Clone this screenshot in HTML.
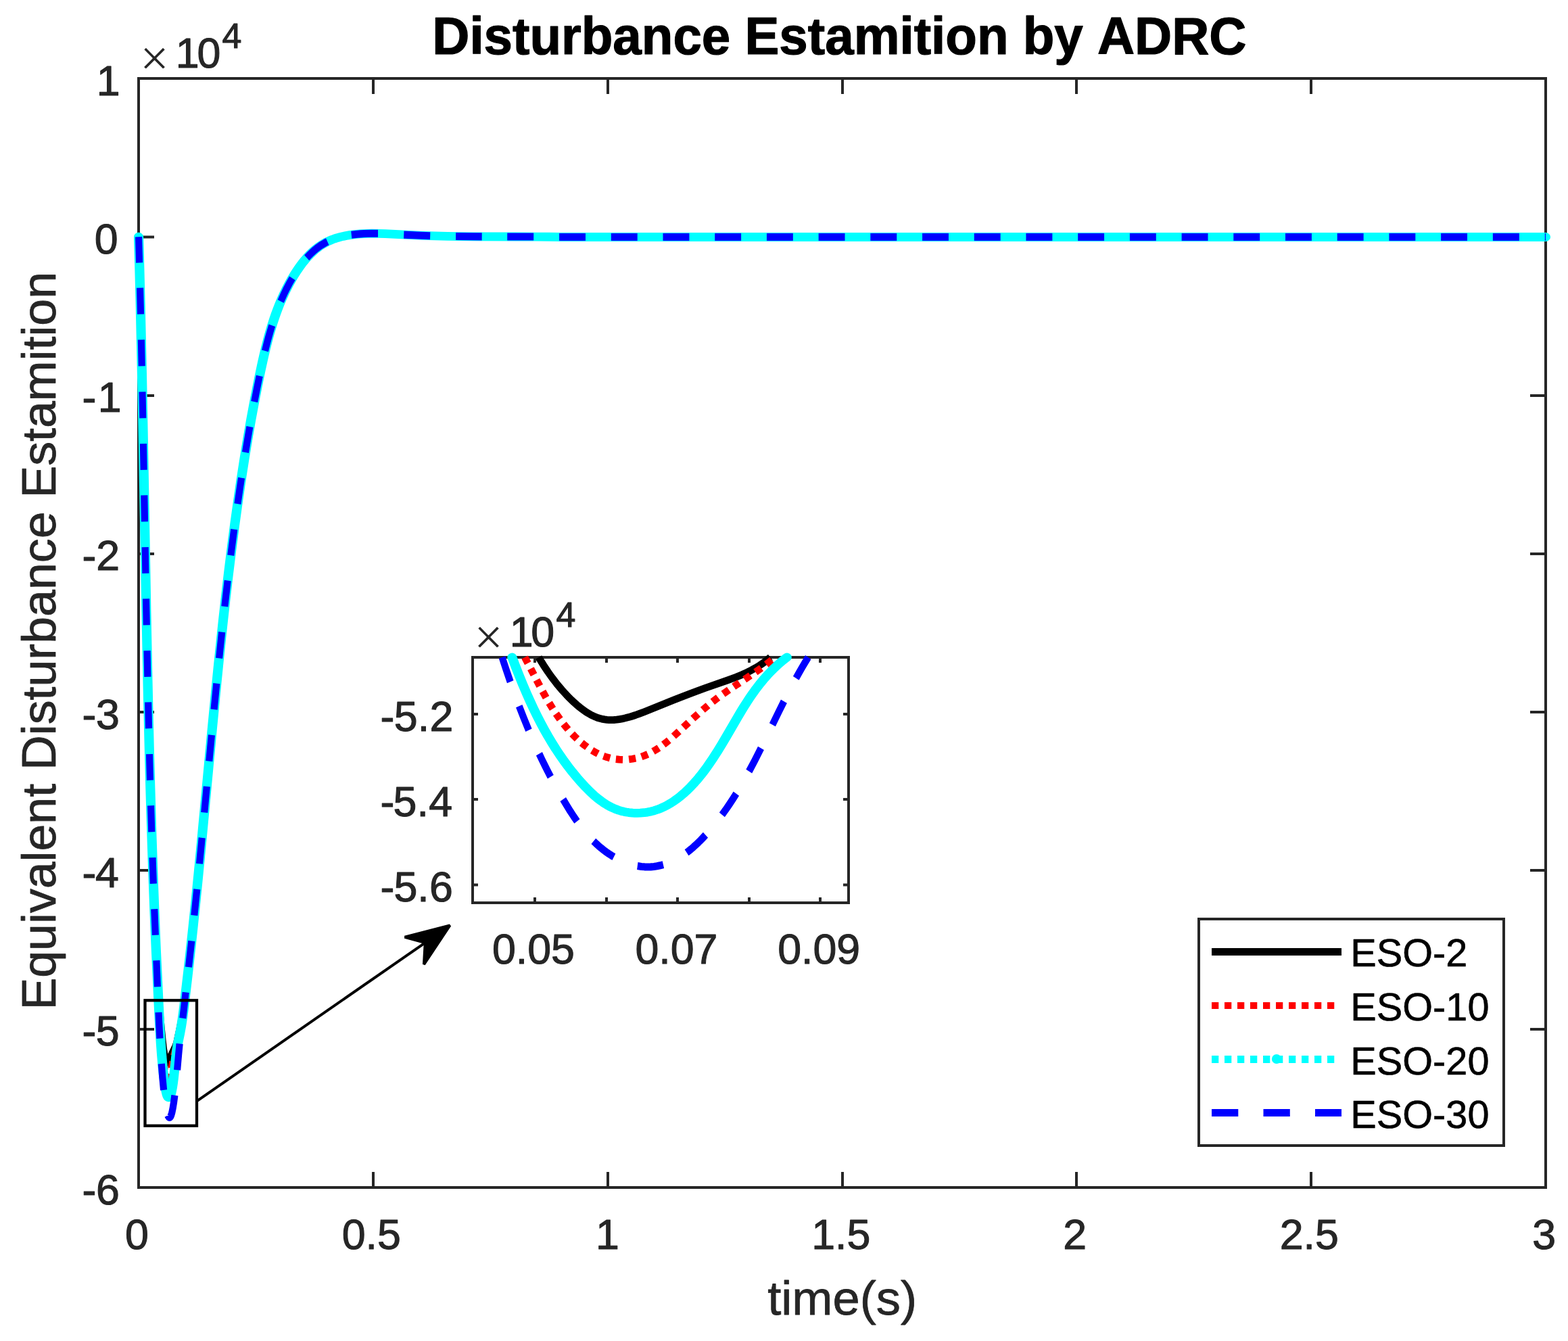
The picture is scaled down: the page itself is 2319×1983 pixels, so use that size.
<!DOCTYPE html>
<html lang="en"><head><meta charset="utf-8"><title>Disturbance Estamition by ADRC</title>
<style>html,body{margin:0;padding:0;background:#fff;overflow:hidden}svg{display:block}text{font-family:"Liberation Sans",sans-serif;font-kerning:none;white-space:pre}</style></head><body>
<svg width="2319" height="1983" viewBox="0 0 2319 1983" role="img" aria-label="Disturbance Estamition by ADRC">
<rect width="2319" height="1983" fill="#fff"/>
<g id="main-axes">
<path d="M552.00,1756.00 v-23.00 M552.00,116.00 v23.00 M899.00,1756.00 v-23.00 M899.00,116.00 v23.00 M1246.00,1756.00 v-23.00 M1246.00,116.00 v23.00 M1592.00,1756.00 v-23.00 M1592.00,116.00 v23.00 M1939.00,1756.00 v-23.00 M1939.00,116.00 v23.00 M205.00,350.40 h23.00 M2286.00,350.40 h-23.00 M205.00,585.00 h23.00 M2286.00,585.00 h-23.00 M205.00,819.00 h23.00 M2286.00,819.00 h-23.00 M205.00,1053.00 h23.00 M2286.00,1053.00 h-23.00 M205.00,1287.00 h23.00 M2286.00,1287.00 h-23.00 M205.00,1522.00 h23.00 M2286.00,1522.00 h-23.00" stroke="#262626" stroke-width="4.00" fill="none"/>
<rect x="205.00" y="116.00" width="2081.00" height="1640.00" fill="none" stroke="#262626" stroke-width="4.00"/>
</g>
<g id="main-labels">
<text transform="translate(184.96,1846.90)" font-size="62.70" fill="#262626" stroke="#262626" stroke-width="1.10" stroke-linejoin="round">0</text>
<text transform="translate(505.74,1846.90)" font-size="62.70" fill="#262626" stroke="#262626" stroke-width="1.10" stroke-linejoin="round">0.5</text>
<text transform="translate(880.97,1846.90)" font-size="62.70" fill="#262626" stroke="#262626" stroke-width="1.10" stroke-linejoin="round">1</text>
<text transform="translate(1200.25,1846.90)" font-size="62.70" fill="#262626" stroke="#262626" stroke-width="1.10" stroke-linejoin="round">1.5</text>
<text transform="translate(1572.30,1846.90)" font-size="62.70" fill="#262626" stroke="#262626" stroke-width="1.10" stroke-linejoin="round">2</text>
<text transform="translate(1892.73,1846.90)" font-size="62.70" fill="#262626" stroke="#262626" stroke-width="1.10" stroke-linejoin="round">2.5</text>
<text transform="translate(2266.15,1846.90)" font-size="62.70" fill="#262626" stroke="#262626" stroke-width="1.10" stroke-linejoin="round">3</text>
<text transform="translate(0,140.50) scale(1,1)" x="142.63" font-size="62.70" fill="#262626" stroke="#262626" stroke-width="1.10" stroke-linejoin="round">1</text>
<text transform="translate(139.78,374.79)" font-size="62.70" fill="#262626" stroke="#262626" stroke-width="1.10" stroke-linejoin="round">0</text>
<text transform="translate(0,609.07) scale(1,1)" x="121.49 144.71" font-size="62.70" fill="#262626" stroke="#262626" stroke-width="1.10" stroke-linejoin="round">-1</text>
<text transform="translate(0,843.36) scale(1,1)" x="121.49 142.33" font-size="62.70" fill="#262626" stroke="#262626" stroke-width="1.10" stroke-linejoin="round">-2</text>
<text transform="translate(0,1077.64) scale(1,1)" x="121.49 141.93" font-size="62.70" fill="#262626" stroke="#262626" stroke-width="1.10" stroke-linejoin="round">-3</text>
<text transform="translate(0,1311.93) scale(1,1)" x="121.49 141.02" font-size="62.70" fill="#262626" stroke="#262626" stroke-width="1.10" stroke-linejoin="round">-4</text>
<text transform="translate(0,1546.21) scale(1,1)" x="121.49 141.81" font-size="62.70" fill="#262626" stroke="#262626" stroke-width="1.10" stroke-linejoin="round">-5</text>
<text transform="translate(0,1780.50) scale(1,1)" x="121.49 141.93" font-size="62.70" fill="#262626" stroke="#262626" stroke-width="1.10" stroke-linejoin="round">-6</text>
<text transform="translate(207.02,110.85)" font-size="73.50" fill="#262626" stroke="#fff" stroke-width="1.60" stroke-linejoin="round">×</text>
<text transform="translate(0,100.10) scale(1,1)" x="259.66 291.56" font-size="62.70" fill="#262626" stroke="#262626" stroke-width="1.10" stroke-linejoin="round">10</text>
<text transform="translate(328.61,71.40)" font-size="52.00" fill="#262626" stroke="#262626" stroke-width="1.10" stroke-linejoin="round">4</text>
<text transform="translate(639.29,79.90) scale(1,1.01)" font-size="76.32" fill="#000" font-weight="bold" stroke="#000" stroke-width="1.20" stroke-linejoin="round">Disturbance Estamition by ADRC</text>
<text transform="translate(1135.21,1944.30) scale(1,0.975)" font-size="72.30" fill="#262626" stroke="#262626" stroke-width="0.80" stroke-linejoin="round">time(s)</text>
<text transform="translate(81.70,1493.58) rotate(-90) scale(1,0.985)" font-size="71.69" fill="#262626" stroke="#262626" stroke-width="0.80" stroke-linejoin="round">Equivalent Disturbance Estamition</text>
</g>
<g id="main-curves" fill="none" stroke-linejoin="round">
<path d="M205.1,350.3 L206.4,397.6 L207.6,446.3 L210.0,553.0 L211.9,655.4 L216.4,905.5 L217.8,974.0 L219.1,1035.5 L220.6,1101.2 L222.3,1163.3 L224.0,1222.6 L225.9,1279.1 L228.4,1346.9 L231.3,1416.1 L232.2,1435.1 L233.1,1452.1 L234.1,1467.6 L235.1,1482.4 L236.5,1500.7 L238.3,1519.7 L240.3,1539.4 L241.7,1551.3 L242.5,1556.2 L243.3,1561.1 L244.1,1565.2 L244.8,1568.0 L245.5,1570.0 L246.2,1571.2 L246.8,1571.7 L247.5,1571.7 L248.0,1571.3 L248.5,1570.7 L249.2,1569.5 L249.9,1568.3 L254.8,1557.3 L259.4,1547.8 L260.5,1545.1 L261.6,1541.8 L262.2,1539.0 L265.6,1523.1 L267.3,1514.8 L268.8,1507.2 L270.0,1500.2 L271.1,1493.3 L273.3,1477.9 L276.6,1451.2 L281.0,1412.6 L285.1,1374.7 L289.3,1334.6 L293.2,1295.3 L297.5,1251.7 L313.2,1084.2 L320.1,1013.2 L324.0,974.5 L327.7,938.7 L331.5,904.3 L335.1,872.0 L339.9,832.0 L344.7,794.2 L349.6,757.8 L354.7,722.1 L359.9,688.6 L365.0,656.5 L370.5,625.1 L376.0,595.3 L381.4,567.5 L386.9,541.2 L389.2,530.9 L391.4,521.3 L393.6,512.3 L395.9,503.4 L398.3,494.6 L400.7,486.4 L403.2,478.3 L405.6,471.0 L408.2,463.6 L410.9,456.3 L413.8,449.1 L416.5,442.6 L419.7,435.5 L423.0,428.5 L426.6,421.6 L430.3,414.8 L434.2,408.1 L438.0,402.1 L441.9,396.2 L445.7,391.1 L449.6,386.1 L453.2,381.8 L457.1,377.6 L461.1,373.6 L465.3,369.9 L469.1,366.7 L473.7,363.4 L477.9,360.8 L481.6,358.7 L484.7,357.1 L487.9,355.6 L491.9,354.0 L495.9,352.6 L499.9,351.4 L504.0,350.3 L508.1,349.3 L513.0,348.3 L517.9,347.5 L522.8,346.8 L527.7,346.3 L532.6,345.9 L538.3,345.5 L543.9,345.3 L550.3,345.2 L559.5,345.3 L570.0,345.7 L603.9,347.4 L624.4,348.3 L642.0,348.9 L661.1,349.3 L679.5,349.6 L699.3,349.8 L789.7,350.1 L812.3,350.3 L828.8,350.5 L2286.0,350.5" stroke="#000" stroke-width="10.8"/>
<path d="M205.1,350.3 L206.4,396.9 L207.6,445.6 L209.9,552.4 L211.9,655.0 L216.4,906.7 L217.8,975.5 L219.1,1037.9 L220.7,1104.6 L222.4,1166.9 L224.1,1226.4 L226.0,1283.8 L228.7,1354.0 L230.1,1387.7 L231.4,1417.8 L232.8,1446.4 L234.2,1473.6 L235.5,1495.8 L236.7,1513.7 L238.0,1530.2 L240.5,1556.6 L241.6,1567.3 L242.7,1575.8 L243.4,1580.1 L244.2,1584.3 L244.9,1587.1 L245.7,1589.8 L246.5,1591.8 L247.3,1593.0 L247.9,1593.4 L248.6,1593.5 L249.2,1593.1 L249.7,1592.5 L250.4,1591.3 L251.1,1589.3 L251.9,1586.5 L253.0,1581.6 L255.6,1568.2 L256.9,1561.9 L258.3,1556.4 L261.9,1542.5 L264.1,1532.7 L266.9,1517.9 L269.6,1502.3 L272.2,1485.3 L274.5,1468.3 L278.0,1439.1 L282.0,1403.4 L285.8,1367.8 L289.8,1329.3 L293.6,1291.4 L297.7,1249.3 L313.0,1086.5 L319.7,1017.3 L323.5,979.5 L327.1,944.5 L330.7,911.0 L334.3,878.9 L339.0,839.8 L343.6,802.8 L348.4,766.5 L353.3,731.7 L358.3,698.4 L363.4,666.5 L368.5,636.1 L373.9,606.5 L379.5,576.9 L385.3,548.8 L387.7,537.6 L390.1,527.1 L392.4,517.3 L394.6,508.2 L397.0,499.2 L399.3,490.9 L401.8,482.7 L404.4,474.5 L407.0,467.0 L409.7,459.6 L412.5,452.3 L415.2,445.6 L418.4,438.4 L421.7,431.2 L425.2,424.2 L429.0,417.2 L432.9,410.4 L436.6,404.3 L440.5,398.3 L444.7,392.4 L448.6,387.3 L452.7,382.3 L456.6,378.1 L460.7,374.0 L464.9,370.2 L468.8,367.0 L473.4,363.6 L477.7,360.9 L481.4,358.8 L484.6,357.1 L487.8,355.7 L491.8,354.0 L495.9,352.6 L500.0,351.3 L504.2,350.2 L508.4,349.2 L512.6,348.4 L517.5,347.6 L522.5,346.9 L527.5,346.3 L532.5,345.9 L538.2,345.5 L543.9,345.3 L549.7,345.2 L559.0,345.3 L569.8,345.6 L604.8,347.5 L624.9,348.3 L642.8,348.9 L661.5,349.3 L679.4,349.6 L699.5,349.8 L789.8,350.1 L812.1,350.3 L828.8,350.5 L2286.0,350.5" stroke="#f00" stroke-width="10.3" stroke-dasharray="10.3 8.8"/>
<g transform="scale(1,0.90780)"><path d="M205.08,385.84 L206.36,437.41 L207.59,491.40 L209.95,609.05 L211.93,721.87 L216.42,997.49 L217.78,1073.24 L219.11,1141.74 L220.69,1215.07 L222.33,1283.56 L224.08,1348.82 L225.97,1411.65 L228.38,1483.34 L230.88,1548.57 L235.63,1658.07 L236.74,1680.60 L237.86,1699.91 L239.16,1719.20 L240.50,1736.06 L241.97,1751.29 L243.49,1764.07 L245.13,1775.21 L245.86,1779.16 L246.58,1782.29 L247.27,1784.58 L247.87,1786.05 L248.26,1786.73 L248.77,1787.33 L249.42,1787.68 L250.15,1787.55 L250.74,1787.07 L251.54,1785.72 L252.14,1784.24 L252.83,1781.95 L253.58,1778.83 L254.85,1771.72 L255.86,1764.55 L256.89,1755.76 L260.15,1722.09 L261.71,1708.50 L263.15,1698.96 L266.15,1683.18 L268.25,1670.49 L270.26,1656.15 L272.15,1640.17 L278.17,1583.32 L281.54,1550.48 L285.49,1510.42 L289.57,1467.12 L293.50,1423.81 L297.67,1376.48 L312.85,1198.32 L319.38,1123.71 L323.03,1083.61 L326.57,1045.93 L330.01,1010.67 L333.51,976.22 L337.94,934.59 L342.43,894.60 L346.98,856.23 L351.69,818.71 L356.45,782.82 L361.28,748.57 L366.15,715.96 L371.18,684.20 L376.80,650.92 L382.64,618.50 L385.47,603.51 L388.10,590.11 L390.53,578.32 L392.92,567.35 L395.26,557.19 L397.53,547.85 L399.94,538.55 L402.50,529.30 L405.21,520.10 L407.85,511.72 L410.64,503.41 L413.32,495.91 L416.73,486.99 L420.05,478.91 L423.55,470.93 L427.25,463.06 L431.15,455.30 L434.88,448.37 L438.80,441.56 L442.92,434.91 L446.84,429.08 L450.97,423.42 L454.83,418.58 L458.89,413.93 L463.14,409.50 L467.60,405.32 L472.28,401.44 L476.54,398.32 L480.32,395.86 L483.56,393.98 L486.86,392.25 L490.91,390.39 L495.04,388.73 L499.22,387.27 L503.46,385.99 L507.73,384.87 L512.03,383.90 L517.08,382.95 L522.15,382.16 L527.24,381.53 L532.34,381.04 L538.18,380.64 L544.03,380.40 L549.89,380.30 L559.40,380.39 L569.64,380.75 L604.71,382.76 L624.45,383.68 L642.73,384.32 L661.75,384.80 L680.04,385.11 L699.80,385.31 L789.80,385.63 L811.75,385.82 L828.85,386.10 L2286.00,386.10" stroke="#0ff" stroke-width="14.1" stroke-linecap="round" stroke-linejoin="round"/></g>
<g transform="scale(0.91892,1)"><path d="M223.18,350.27 L224.32,388.48 M225.36,425.63 L226.38,464.59 M227.31,502.49 L228.22,541.45 M229.05,579.35 L229.87,618.32 M230.64,656.21 L231.40,694.80 M232.13,732.33 L232.88,771.30 M233.61,809.20 L234.36,847.79 M235.11,885.32 L235.91,924.29 M236.72,962.18 L237.59,1000.77 M238.49,1038.29 L239.47,1077.26 M240.49,1115.15 L241.60,1153.73 M242.76,1191.25 L244.05,1230.21 M245.40,1268.09 L246.88,1306.67 M248.43,1344.17 L250.14,1382.74 M251.78,1420.24 L253.46,1459.19 M255.19,1497.06 L256.25,1517.93 L257.26,1535.61 M259.84,1573.06 L261.55,1593.16 L263.44,1611.93 M270.05,1649.20 L270.73,1650.58 L271.62,1651.83 L272.27,1652.31 L273.05,1652.42 L273.75,1652.00 L274.26,1651.41 L275.02,1650.10 L275.61,1648.71 L276.33,1646.57 L276.94,1644.40 L278.23,1638.55 L279.77,1629.71 L281.20,1619.75 M285.25,1582.21 L287.50,1558.41 L289.07,1543.38 M294.15,1505.78 L295.78,1493.18 L298.89,1467.43 M303.62,1430.15 L308.31,1391.41 M312.67,1353.72 L316.98,1314.95 M321.03,1277.23 L325.05,1238.81 M328.89,1201.44 L332.80,1163.01 M336.59,1125.64 L340.56,1086.83 M344.49,1049.10 L348.58,1010.69 M352.68,973.34 L357.11,934.58 M361.62,896.91 L366.44,858.56 M371.38,821.31 L376.81,782.65 M382.43,745.10 L385.44,725.89 L388.58,706.53 M394.99,669.10 L398.45,649.95 L402.01,631.03 M409.38,594.12 L413.41,575.08 L417.66,555.88 M426.56,518.89 L429.31,508.75 L432.00,499.37 L434.87,490.03 L437.77,481.22 M451.82,445.69 L456.07,436.81 L460.63,428.06 L465.49,419.44 L470.47,411.31 M493.72,381.25 L497.59,377.42 L501.63,373.75 L505.86,370.25 L509.62,367.40 L514.18,364.28 L518.23,361.80 L522.42,359.51 L526.98,357.31 M565.63,347.24 L570.47,346.68 L575.31,346.21 L580.17,345.85 L585.85,345.54 L596.40,345.26 L608.37,345.31 M649.96,347.09 L671.06,348.01 L692.34,348.70 M733.57,349.52 L775.58,349.86 M816.42,349.96 L858.84,350.07 M900.08,350.45 L942.40,350.50 M983.56,350.50 L1025.88,350.50 M1067.03,350.50 L1109.36,350.50 M1150.51,350.50 L1192.83,350.50 M1233.99,350.50 L1276.31,350.50 M1317.46,350.50 L1359.79,350.50 M1400.94,350.50 L1443.26,350.50 M1484.42,350.50 L1526.74,350.50 M1567.89,350.50 L1610.21,350.50 M1651.37,350.50 L1693.69,350.50 M1734.85,350.50 L1777.17,350.50 M1818.32,350.50 L1860.64,350.50 M1901.80,350.50 L1944.12,350.50 M1985.27,350.50 L2027.60,350.50 M2068.75,350.50 L2111.07,350.50 M2152.23,350.50 L2194.55,350.50 M2235.70,350.50 L2278.03,350.50 M2319.18,350.50 L2361.50,350.50 M2402.66,350.50 L2445.14,350.50 M2486.45,350.50 L2487.71,350.50" stroke="#00f" stroke-width="11.1"/></g>
</g>
<g id="inset">
<rect x="699.00" y="972.00" width="556.00" height="363.00" fill="#fff"/>
<path d="M791.00,1335.00 v-8.00 M791.00,972.00 v8.00 M897.00,1335.00 v-8.00 M897.00,972.00 v8.00 M1002.00,1335.00 v-8.00 M1002.00,972.00 v8.00 M1108.00,1335.00 v-8.00 M1108.00,972.00 v8.00 M1213.00,1335.00 v-8.00 M1213.00,972.00 v8.00 M699.00,1056.00 h8.00 M1255.00,1056.00 h-8.00 M699.00,1182.00 h8.00 M1255.00,1182.00 h-8.00 M699.00,1308.50 h8.00 M1255.00,1308.50 h-8.00" stroke="#262626" stroke-width="4.00" fill="none"/>
<rect x="699.00" y="972.00" width="556.00" height="363.00" fill="none" stroke="#262626" stroke-width="4.00"/>
<g fill="none" stroke-linejoin="round">
<path d="M796.6,972.0 L803.7,983.4 L810.4,993.5 L813.9,998.5 L817.1,1002.9 L820.5,1007.3 L823.9,1011.7 L827.5,1016.0 L830.7,1019.8 L834.5,1024.0 L837.9,1027.7 L842.0,1031.9 L845.6,1035.5 L849.4,1039.0 L852.8,1042.1 L856.3,1045.0 L859.3,1047.4 L863.0,1050.1 L866.1,1052.3 L869.3,1054.3 L872.5,1056.2 L875.7,1057.9 L879.0,1059.5 L882.3,1060.8 L885.1,1061.8 L887.9,1062.6 L891.3,1063.4 L894.2,1063.9 L897.6,1064.4 L900.5,1064.6 L903.9,1064.6 L908.0,1064.5 L912.1,1064.2 L916.1,1063.6 L920.2,1062.9 L925.0,1061.8 L929.7,1060.6 L934.4,1059.2 L939.7,1057.5 L945.6,1055.4 L952.7,1052.7 L996.6,1035.1 L1010.8,1029.5 L1023.9,1024.5 L1042.8,1017.5 L1075.4,1006.1 L1082.4,1003.6 L1088.7,1001.2 L1097.3,997.7 L1104.6,994.4 L1111.2,991.1 L1117.6,987.6 L1123.4,984.0 L1129.0,980.2 L1134.5,976.1 L1139.4,972.0" stroke="#000" stroke-width="10.8"/>
<path d="M776.08,972.00 L780.76,980.74 M784.92,988.72 L789.59,997.75 M793.57,1005.45 L798.29,1014.47 M802.56,1022.43 L807.61,1031.53 M812.17,1039.36 L817.55,1048.08 M822.36,1055.41 L828.21,1063.69 M833.58,1070.74 L836.80,1074.70 L840.15,1078.64 M846.20,1085.29 L849.82,1088.99 L853.53,1092.57 M860.23,1098.51 L864.24,1101.75 L868.27,1104.77 M875.56,1109.63 L879.91,1112.17 L884.43,1114.53 M892.56,1118.05 L897.39,1119.70 L902.24,1121.02 M910.83,1122.60 L915.83,1123.10 L921.04,1123.29 M930.09,1122.87 L935.26,1122.20 L940.21,1121.26 M948.66,1118.94 L953.40,1117.22 L958.09,1115.21 M965.99,1111.15 L970.37,1108.53 L974.43,1105.89 M981.28,1101.00 L985.11,1098.04 L989.27,1094.66 M996.35,1088.61 L1004.17,1081.56 M1010.77,1075.47 L1018.29,1068.51 M1024.82,1062.55 L1032.48,1055.70 M1039.31,1049.77 L1047.10,1043.24 M1053.82,1037.84 L1062.02,1031.58 M1069.56,1026.11 L1078.04,1020.19 M1085.20,1015.34 L1093.66,1009.68 M1101.19,1004.68 L1109.84,998.89 M1117.34,993.78 L1125.90,987.77 M1133.25,982.39 L1141.55,976.00" stroke="#f00" stroke-width="10.7"/>
<g transform="scale(1,0.90780)"><path d="M757.37,1070.72 L763.08,1087.29 L768.32,1101.93 L773.37,1115.53 L778.60,1129.06 L783.64,1141.52 L788.87,1153.89 L794.30,1166.14 L799.51,1177.34 L804.93,1188.43 L810.56,1199.38 L816.43,1210.19 L822.01,1219.97 L827.82,1229.61 L833.84,1239.11 L840.11,1248.46 L846.61,1257.64 L853.37,1266.66 L859.75,1274.70 L866.36,1282.57 L872.52,1289.40 L878.20,1295.20 L881.11,1297.97 L884.07,1300.66 L889.39,1305.11 L892.51,1307.49 L894.88,1309.20 L898.10,1311.36 L900.56,1312.89 L903.89,1314.80 L906.43,1316.13 L909.88,1317.76 L912.51,1318.87 L915.18,1319.89 L917.89,1320.80 L920.64,1321.61 L923.41,1322.31 L926.22,1322.92 L929.98,1323.57 L935.68,1324.22 L938.54,1324.39 L942.35,1324.47 L947.10,1324.33 L952.75,1323.80 L957.39,1323.06 L962.85,1321.84 L967.31,1320.54 L972.56,1318.66 L977.69,1316.45 L982.72,1313.92 L987.63,1311.10 L992.43,1308.00 L997.13,1304.63 L1002.47,1300.39 L1006.93,1296.51 L1012.01,1291.71 L1016.95,1286.65 L1021.75,1281.35 L1025.75,1276.65 L1029.66,1271.80 L1033.47,1266.84 L1037.79,1260.92 L1041.40,1255.76 L1045.48,1249.65 L1049.44,1243.47 L1053.82,1236.36 L1060.65,1224.73 L1067.67,1212.12 L1074.46,1199.48 L1090.56,1168.94 L1095.35,1160.07 L1099.74,1152.17 L1104.24,1144.34 L1108.86,1136.61 L1113.63,1128.99 L1118.03,1122.31 L1123.75,1114.11 L1129.15,1106.89 L1134.81,1099.82 L1140.09,1093.68 L1145.61,1087.69 L1151.39,1081.85 L1157.47,1076.17 L1163.78,1070.72" stroke="#0ff" stroke-width="14.1" stroke-linecap="round" stroke-linejoin="round"/></g>
<g transform="scale(0.91892,1)"><path d="M808.11,972.00 L814.70,990.43 L821.31,1008.23 M835.48,1044.09 L842.92,1061.68 L850.94,1079.69 M867.79,1114.64 L872.19,1123.17 L876.70,1131.67 L881.32,1140.13 L886.18,1148.80 M906.21,1182.03 L912.26,1191.34 L917.81,1199.55 L923.56,1207.62 L928.74,1214.52 M955.27,1243.80 L959.88,1247.89 L963.68,1251.04 L967.57,1254.09 L971.56,1257.02 L975.65,1259.84 L979.86,1262.53 L984.17,1265.09 L988.02,1267.21 M1025.96,1280.51 L1032.27,1281.41 L1037.33,1281.84 L1042.39,1282.00 L1047.44,1281.87 L1052.46,1281.46 L1057.45,1280.77 L1062.41,1279.82 L1067.47,1278.57 M1105.16,1260.70 L1108.29,1258.50 L1112.37,1255.48 L1116.35,1252.33 L1120.24,1249.09 L1124.04,1245.76 L1127.76,1242.35 L1131.40,1238.87 L1135.54,1234.78 M1162.08,1204.89 L1168.09,1197.19 L1173.91,1189.37 L1179.54,1181.45 L1184.95,1173.54 M1205.52,1140.62 L1214.54,1124.91 L1224.75,1106.39 M1243.19,1071.73 L1253.39,1052.51 L1261.72,1037.07 M1281.15,1002.92 L1286.17,994.63 L1291.31,986.41 L1295.91,979.28 L1300.76,972.00" stroke="#00f" stroke-width="11.1"/></g>
</g>
<text transform="translate(727.98,1425.40)" font-size="62.70" fill="#262626" stroke="#262626" stroke-width="1.10" stroke-linejoin="round">0.05</text>
<text transform="translate(939.44,1425.40)" font-size="62.70" fill="#262626" stroke="#262626" stroke-width="1.10" stroke-linejoin="round">0.07</text>
<text transform="translate(1150.14,1425.40)" font-size="62.70" fill="#262626" stroke="#262626" stroke-width="1.10" stroke-linejoin="round">0.09</text>
<text transform="translate(0,1080.51) scale(1,1)" x="562.41 582.79 617.76 635.48" font-size="62.70" fill="#262626" stroke="#262626" stroke-width="1.10" stroke-linejoin="round">-5.2</text>
<text transform="translate(0,1206.73) scale(1,1)" x="562.41 581.48 616.45 634.17" font-size="62.70" fill="#262626" stroke="#262626" stroke-width="1.10" stroke-linejoin="round">-5.4</text>
<text transform="translate(0,1332.95) scale(1,1)" x="562.41 582.39 617.36 635.08" font-size="62.70" fill="#262626" stroke="#262626" stroke-width="1.10" stroke-linejoin="round">-5.6</text>
<text transform="translate(700.92,966.75)" font-size="73.50" fill="#262626" stroke="#fff" stroke-width="1.60" stroke-linejoin="round">×</text>
<text transform="translate(0,955.60) scale(1,1)" x="753.65 785.26" font-size="62.70" fill="#262626" stroke="#262626" stroke-width="1.10" stroke-linejoin="round">10</text>
<text transform="translate(822.61,927.25)" font-size="52.00" fill="#262626" stroke="#262626" stroke-width="1.10" stroke-linejoin="round">4</text>
</g>
<g id="annotation">
<rect x="214.5" y="1479.3" width="76.5" height="185.4" fill="none" stroke="#000" stroke-width="4.3"/>
<path d="M291.0,1628.3 L630.5,1392.8" stroke="#000" stroke-width="4.0" fill="none"/>
<path d="M665.4,1368.4 L627.0,1426.0 L628.8,1394.0 L598.6,1385.8 Z" fill="#000" stroke="#000" stroke-width="4.1" stroke-linejoin="bevel"/>
</g>
<g id="legend">
<rect x="1773.00" y="1359.00" width="451.00" height="335.00" fill="#fff" stroke="#262626" stroke-width="4"/>
<path d="M1792,1407.5 H1984" stroke="#000" stroke-width="11" fill="none"/>
<path d="M1792,1487 H1976" stroke="#f00" stroke-width="10" stroke-dasharray="10.3 8.7" fill="none"/>
<path d="M1792,1566.5 H1976" stroke="#0ff" stroke-width="11" stroke-dasharray="10.3 8.7" fill="none"/>
<circle cx="1888" cy="1566" r="7.1" fill="#0ff"/>
<path d="M1792,1645.5 H1984" stroke="#00f" stroke-width="11" stroke-dasharray="39.3 37.2" fill="none"/>
<text transform="translate(1997.27,1429.40) scale(1,0.98)" font-size="57.70" fill="#000" stroke="#000" stroke-width="0.60" stroke-linejoin="round">ESO-2</text>
<text transform="translate(1997.27,1509.20) scale(1,0.98)" font-size="57.70" fill="#000" stroke="#000" stroke-width="0.60" stroke-linejoin="round">ESO-10</text>
<text transform="translate(1997.27,1588.60) scale(1,0.98)" font-size="57.70" fill="#000" stroke="#000" stroke-width="0.60" stroke-linejoin="round">ESO-20</text>
<text transform="translate(1997.27,1668.00) scale(1,0.98)" font-size="57.70" fill="#000" stroke="#000" stroke-width="0.60" stroke-linejoin="round">ESO-30</text>
</g>
</svg></body></html>
